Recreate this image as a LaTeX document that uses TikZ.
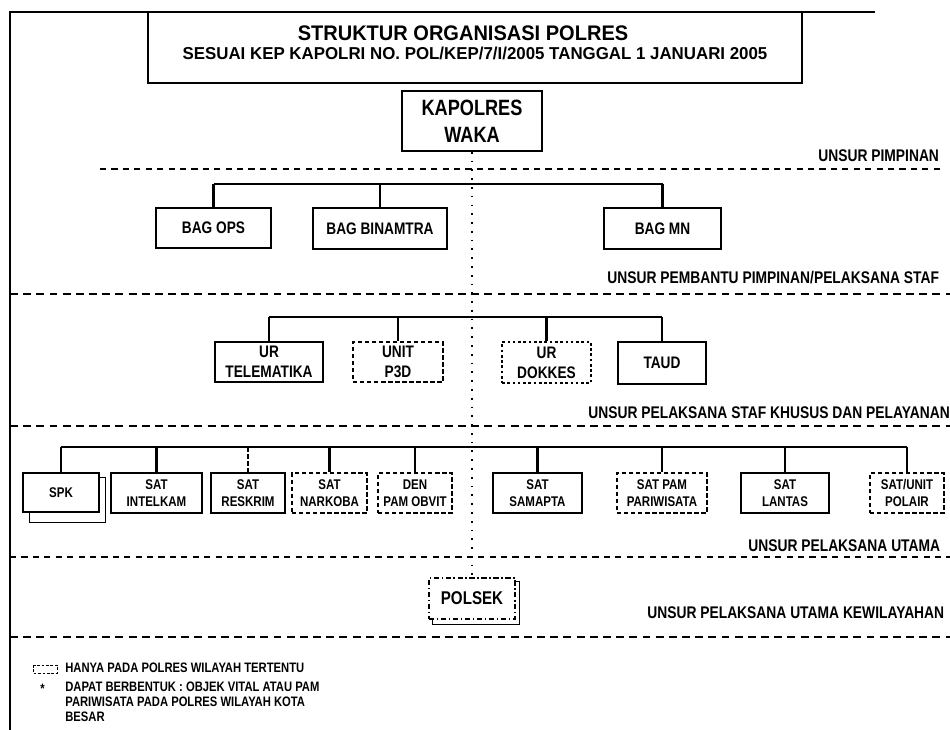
\documentclass[tikz,border=0pt]{standalone}
\usepackage{fontspec}
\usetikzlibrary{calc}
\setmainfont{Liberation Sans}[FakeStretch=0.82]
\newfontfamily\ttlfont{Liberation Sans}[FakeStretch=0.95]
\newfontfamily\subfont{Liberation Sans}[FakeStretch=0.98]
\begin{document}
\begin{tikzpicture}[x=0.02cm,y=-0.02cm,
  font=\bfseries,
  bx/.style={draw, line width=0.6pt, inner sep=0pt, align=center,
    font=\bfseries\fontsize{9.5}{11.5}\selectfont},
  dbx/.style={bx, dash pattern=on 2.5pt off 1.5pt},
  lvbx/.style={bx, font=\bfseries\fontsize{8}{9.7}\selectfont},
  dlvbx/.style={lvbx, dash pattern=on 2.5pt off 1.5pt},
  sz/.style 2 args={minimum width=#1*0.02cm, minimum height=#2*0.02cm},
  conn/.style={line width=1.2pt},
  thinconn/.style={line width=0.6pt},
  vdot/.style={line width=0.9pt, dash pattern=on 1pt off 4pt},
  thinsep/.style={line width=0.6pt, dash pattern=on 3.5pt off 3pt},
  thicksep/.style={line width=1.4pt, dash pattern=on 4.5pt off 3pt},
  lbl/.style={anchor=base west, inner sep=0pt, font=\bfseries\fontsize{9.6}{11}\selectfont},
  lgd/.style={inner sep=0pt, font=\bfseries\fontsize{7.8}{8.5}\selectfont},
  frame/.style={line width=0.6pt}
]
\useasboundingbox (0,0) rectangle (950,730);

% frame and title box
\draw[frame] (10,730) -- (10,12) -- (875,12);
\draw[frame] (148,12) rectangle (802,83);
\node[inner sep=0pt, font=\ttlfont\bfseries\fontsize{12}{14}\selectfont] (ttl) at (463,33) {STRUKTUR ORGANISASI POLRES};
\node[inner sep=0pt, font=\subfont\bfseries\fontsize{9.8}{11}\selectfont] (sub) at (475,53) {SESUAI KEP KAPOLRI NO. POL/KEP/7/I/2005 TANGGAL 1 JANUARI 2005};

% top
\node[bx, sz={140}{60}, line width=0.9pt, font=\bfseries\fontsize{12.6}{15.3}\selectfont] (kap) at (472,121) {KAPOLRES\\WAKA};

% level 2
\node[bx, sz={115}{40}] (bagops) at (213.5,228) {BAG OPS};
\node[bx, sz={134}{41}] (bagbin) at (380,228.5) {BAG BINAMTRA};
\node[bx, sz={117}{41}] (bagmn) at (662.5,228.5) {BAG MN};

% level 3
\node[bx, sz={108}{40}] (urtel) at (269,362) {UR\\TELEMATIKA};
\node[dbx, sz={90}{40}] (p3d) at (398,362) {UNIT\\P3D};
\node[dbx, sz={89}{41}, line width=0.9pt, dash pattern=on 1.5pt off 1.5pt] (dokkes) at (546.5,362.5) {UR\\DOKKES};
\node[bx, sz={88}{42}] (taud) at (662,363) {TAUD};

% level 4
\node[lvbx, sz={76}{39}, fill=white] (spk) at (61,492.5) {SPK};
\node[lvbx, sz={91}{40}] (intel) at (156.5,493) {SAT\\INTELKAM};
\node[lvbx, sz={74}{40}] (reskrim) at (248,493) {SAT\\RESKRIM};
\node[dlvbx, sz={75}{40}] (narkoba) at (329.5,493) {SAT\\NARKOBA};
\node[dlvbx, sz={74}{40}] (denpam) at (415,493) {DEN\\PAM OBVIT};
\node[lvbx, sz={89}{40}] (samapta) at (537.5,493) {SAT\\SAMAPTA};
\node[dlvbx, sz={90}{40}] (pariw) at (662,493) {SAT PAM\\PARIWISATA};
\node[lvbx, sz={88}{40}] (lantas) at (785,493) {SAT\\LANTAS};
\node[dlvbx, sz={74}{40}] (polair) at (907,493) {SAT/UNIT\\POLAIR};

% polsek
\node[dbx, sz={86}{41}, font=\bfseries\fontsize{10.5}{12}\selectfont, dash pattern=on 3pt off 1.5pt on 0.8pt off 1.5pt] (polsek) at (472,598.5) {POLSEK};

% shadows
\draw[frame] ($(spk.south west)+(7,0)$) -- ++(0,10) -| ($(spk.north east)+(6,5)$) -- ++(-6,0);
\draw[frame] ($(polsek.south west)+(4,0)$) -- ++(0,5) -| ($(polsek.north east)+(4,4)$) -- ++(-4,0);

% central dotted line
\draw[vdot] (kap.south) -- (polsek.north);

% connectors level 2
\draw[conn] (bagops.north |- 0,184) -- (bagmn.north |- 0,184);
\foreach \n in {bagops,bagbin,bagmn} \draw[conn] (\n.north |- 0,184) -- (\n.north);

% connectors level 3
\draw[conn] (urtel.north |- 0,317) -- (taud.north |- 0,317);
\foreach \n in {urtel,p3d,dokkes,taud} \draw[conn] (\n.north |- 0,317) -- (\n.north);

% connectors level 4
\draw[conn] (spk.north |- 0,447) -- (polair.north |- 0,447);
\foreach \n in {spk,intel,narkoba,samapta,pariw,lantas,polair} \draw[conn] (\n.north |- 0,447) -- (\n.north);
\draw[conn, dash pattern=on 3pt off 1pt] (reskrim.north |- 0,447) -- (reskrim.north);
\draw[thinconn] (denpam.north |- 0,447) -- (denpam.north);

% separators
\draw[thinsep] (100,169) -- (940,169);
\draw[thicksep] (10,294) -- (950,294);
\draw[thicksep] (10,426) -- (950,426);
\draw[thinsep] (10,557) -- (950,557);
\draw[thicksep] (10,637) -- (950,637);

% level labels
\node[lbl] (l1) at (818,161) {UNSUR PIMPINAN};
\node[lbl] (l2) at (607,283) {UNSUR PEMBANTU PIMPINAN/PELAKSANA STAF};
\node[lbl] (l3) at (588,418) {UNSUR PELAKSANA STAF KHUSUS DAN PELAYANAN};
\node[lbl] (l4) at (748,551) {UNSUR PELAKSANA UTAMA};
\node[lbl] (l5) at (647,618) {UNSUR PELAKSANA UTAMA KEWILAYAHAN};

% legend
\draw[line width=0.5pt, dash pattern=on 1.5pt off 1pt] (33,665) rectangle (57,673);
\node[lgd, anchor=base west] (lg1) at (65,672) {HANYA PADA POLRES WILAYAH TERTENTU};
\node[lgd, anchor=base west] (star) at (40,693) {*};
\node[lgd, anchor=north west, align=left] (lg2) at (65,682) {DAPAT BERBENTUK : OBJEK VITAL ATAU PAM\\PARIWISATA PADA POLRES WILAYAH KOTA\\BESAR};
\end{tikzpicture}
\end{document}
